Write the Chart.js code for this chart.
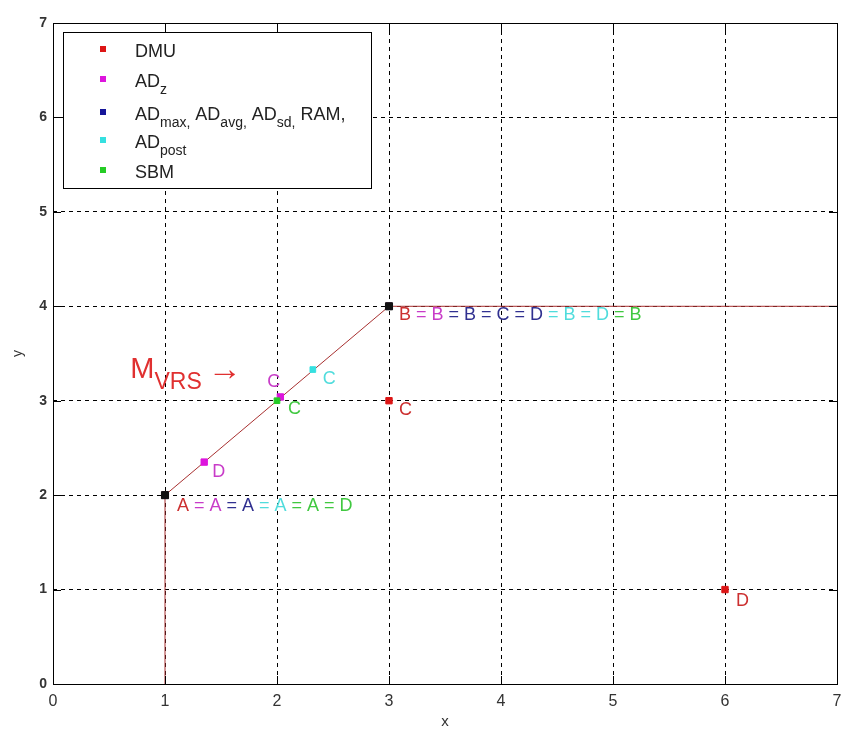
<!DOCTYPE html>
<html>
<head>
<meta charset="utf-8">
<script src="https://cdn.jsdelivr.net/npm/chart.js@4.4.0/dist/chart.umd.min.js"></script>
<style>
  body { margin: 0; background: #fff; }
  #wrap { width: 843px; height: 731px; }
</style>
</head>
<body>
<div id="wrap"><canvas id="frontierChart" width="843" height="731"></canvas></div>
<script>
// VRS frontier
const frontierX = [1, 1, 3, 7];
const frontierY = [0, 2, 4, 4];

// DMUs A, B, C, D
const dmuX = [1, 3, 3, 6];
const dmuY = [2, 4, 3, 1];

// projections (D, C)
const adzX = [1.35, 2.03];
const adzY = [2.35, 3.04];
const admaxX = [1, 3];
const admaxY = [2, 4];
const adpostX = [2.32];
const adpostY = [3.33];
const sbmX = [2];
const sbmY = [3];
// efficient units (black markers)
const effX = [1, 3];
const effY = [2, 4];

const axisMin = 0;
const axisMax = 7;

const RED = "#dd1515", MAG = "#dd15dd", BLUE = "#151599", CYAN = "#35e0e0", GREEN = "#25cc25";
const tRED = "#cc3030", tMAG = "#c83cc8", tBLUE = "#303090", tCYAN = "#50dcdc", tGREEN = "#40c840";

const pts = (xs, ys) => xs.map((x, i) => ({ x: x, y: ys[i] }));

// legend entries: [text, subscript] runs
const legendLabels = [
    [["DMU", ""]],
    [["AD", "z"]],
    [["AD", "max,"], [" AD", "avg,"], [" AD", "sd,"], [" RAM,", ""]],
    [["AD", "post"]],
    [["SBM", ""]],
];
const legendColors = [RED, MAG, BLUE, CYAN, GREEN];

// text labels next to points
const notes = [
    { x: dmuX[2], y: dmuY[2], dx: 10, dy: 9, runs: [["C", tRED]] },
    { x: dmuX[3], y: dmuY[3], dx: 11, dy: 11, runs: [["D", tRED]] },
    { x: adzX[0], y: adzY[0], dx: 8, dy: 10, runs: [["D", tMAG]] },
    { x: adzX[1], y: adzY[1], dx: -13, dy: -15, runs: [["C", tMAG]] },
    { x: adpostX[0], y: adpostY[0], dx: 10, dy: 9, runs: [["C", tCYAN]] },
    { x: sbmX[0], y: sbmY[0], dx: 11, dy: 8, runs: [["C", tGREEN]] },
    { x: effX[1], y: effY[1], dx: 10, dy: 9, runs: [["B", tRED], [" = B", tMAG], [" = B", tBLUE], [" = C", tBLUE], [" = D", tBLUE], [" = B", tCYAN], [" = D", tCYAN], [" = B", tGREEN]] },
    { x: effX[0], y: effY[0], dx: 12, dy: 11, runs: [["A", tRED], [" = A", tMAG], [" = A", tBLUE], [" = A", tCYAN], [" = A", tGREEN], [" = D", tGREEN]] },
];

const FONT = "'Liberation Sans', Arial, sans-serif";

const decorPlugin = {
    id: "decor",
    beforeDraw(chart) {
        const ctx = chart.ctx;
        ctx.save();
        ctx.fillStyle = "#fff";
        ctx.fillRect(0, 0, chart.width, chart.height);
        ctx.restore();
    },
    afterDraw(chart) {
        const ctx = chart.ctx;
        const a = chart.chartArea;
        const sx = chart.scales.x, sy = chart.scales.y;
        ctx.save();

        // frame and inward ticks
        ctx.strokeStyle = "#000";
        ctx.lineWidth = 1;
        ctx.setLineDash([]);
        ctx.strokeRect(Math.round(a.left) + 0.5, Math.round(a.top) + 0.5, Math.round(a.right - a.left), Math.round(a.bottom - a.top));
        ctx.beginPath();
        sx.ticks.forEach(t => {
            const px = Math.round(sx.getPixelForValue(t.value)) + 0.5;
            ctx.moveTo(px, a.bottom); ctx.lineTo(px, a.bottom - 8);
            ctx.moveTo(px, a.top); ctx.lineTo(px, a.top + 8);
        });
        sy.ticks.forEach(t => {
            const py = Math.round(sy.getPixelForValue(t.value)) + 0.5;
            ctx.moveTo(a.left, py); ctx.lineTo(a.left + 8, py);
            ctx.moveTo(a.right, py); ctx.lineTo(a.right - 8, py);
        });
        ctx.stroke();

        // point labels
        ctx.font = "18px " + FONT;
        ctx.textBaseline = "middle";
        ctx.textAlign = "left";
        notes.forEach(n => {
            let px = sx.getPixelForValue(n.x) + n.dx;
            const py = sy.getPixelForValue(n.y) + n.dy;
            n.runs.forEach(r => {
                ctx.fillStyle = r[1];
                ctx.fillText(r[0], px, py);
                px += ctx.measureText(r[0]).width;
            });
        });

        // M_VRS arrow label
        const mx = sx.getPixelForValue(0.69), my = sy.getPixelForValue(3.24);
        ctx.textBaseline = "alphabetic";
        ctx.fillStyle = "#e03030";
        ctx.font = "29px " + FONT;
        ctx.fillText("M", mx, my);
        let w = ctx.measureText("M").width;
        ctx.font = "23px " + FONT;
        ctx.fillText("VRS", mx + w, my + 11);
        w += ctx.measureText("VRS").width;
        ctx.font = "34px " + FONT;
        ctx.fillText("\u2192", mx + w + 6, my + 2);

        // legend box
        const lx = 63, ly = 32, lw = 308, lh = 156;
        const rows = [25, 55, 88, 116, 146];
        ctx.fillStyle = "#fff";
        ctx.fillRect(lx, ly, lw, lh);
        ctx.strokeStyle = "#000";
        ctx.strokeRect(lx + 0.5, ly + 0.5, lw, lh);
        legendLabels.forEach((runs, i) => {
            const base = ly + rows[i];
            ctx.fillStyle = legendColors[i];
            ctx.fillRect(lx + 37, base - 11, 6, 6);
            let tx = lx + 72;
            ctx.fillStyle = "#222";
            runs.forEach(r => {
                ctx.font = "18px " + FONT;
                ctx.fillText(r[0], tx, base);
                tx += ctx.measureText(r[0]).width;
                if (r[1]) {
                    ctx.font = "14px " + FONT;
                    ctx.fillText(r[1], tx, base + 7);
                    tx += ctx.measureText(r[1]).width;
                }
            });
        });
        ctx.restore();
    }
};

const square = (color, r, order) => ({
    showLine: false,
    pointStyle: "rect",
    pointRadius: r,
    pointBackgroundColor: color,
    pointBorderColor: color,
    pointBorderWidth: 1,
    order: order,
});

new Chart(document.getElementById("frontierChart"), {
    type: "scatter",
    data: {
        datasets: [
            { label: "frontier", data: pts(frontierX, frontierY), showLine: true, borderColor: "#a83030", borderWidth: 1, pointRadius: 0, tension: 0, order: 10 },
            Object.assign({ label: "DMU", data: pts(dmuX, dmuY) }, square(RED, 4.5, 6)),
            Object.assign({ label: "ADz", data: pts(adzX, adzY) }, square(MAG, 4.5, 5)),
            Object.assign({ label: "ADmax", data: pts(admaxX, admaxY) }, square(BLUE, 4.5, 4)),
            Object.assign({ label: "ADpost", data: pts(adpostX, adpostY) }, square(CYAN, 4, 3)),
            Object.assign({ label: "SBM", data: pts(sbmX, sbmY) }, square(GREEN, 4, 2)),
            Object.assign({ label: "efficient", data: pts(effX, effY) }, square("#111", 5, 1)),
        ],
    },
    options: {
        responsive: false,
        animation: false,
        layout: { padding: { top: 23, right: 5, left: 0, bottom: 0 } },
        plugins: { legend: { display: false }, tooltip: { enabled: false } },
        scales: {
            x: {
                type: "linear",
                min: axisMin,
                max: axisMax,
                ticks: { stepSize: 1, padding: 8, color: "#333", font: { family: "'Liberation Sans Narrow', 'Liberation Sans', Arial", size: 16 } },
                grid: { color: "#000", lineWidth: 1, drawTicks: false },
                border: { display: false, dash: [4, 4] },
                title: { display: true, text: "x", color: "#333", font: { family: FONT, size: 15 }, padding: { top: 0, bottom: 0 } },
                afterFit: s => { s.height = 47; s.paddingLeft = 0; s.paddingRight = 0; },
            },
            y: {
                type: "linear",
                min: axisMin,
                max: axisMax,
                ticks: { stepSize: 1, padding: 6, color: "#333", font: { family: FONT, size: 14, weight: "bold" } },
                grid: { color: "#000", lineWidth: 1, drawTicks: false },
                border: { display: false, dash: [4, 4] },
                title: { display: true, text: "y", color: "#333", font: { family: FONT, size: 14 }, padding: { top: 10, bottom: 0 } },
                afterFit: s => { s.width = 53; s.paddingTop = 0; s.paddingBottom = 0; },
            },
        },
    },
    plugins: [decorPlugin],
});
</script>
</body>
</html>
